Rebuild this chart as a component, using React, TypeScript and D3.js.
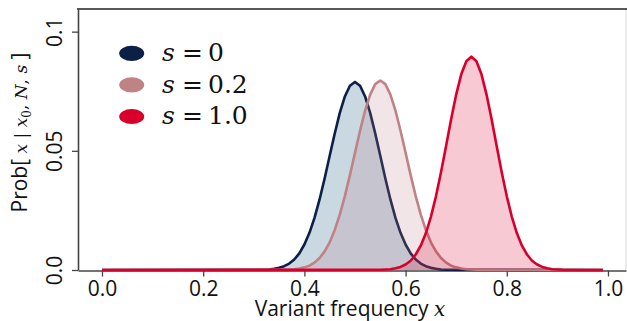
import React, { useEffect, useRef } from 'react';
import * as d3 from 'd3';

// legend labels (value of s) and colours
const seriesNames = ['0', '0.2', '1.0'];
const lineColors = ['#0c1f46', '#bf8285', '#d8002b'];
const fillColors = ['#4d7f9b', '#bc7f87', '#d8002b'];
const fillOpacity = [0.3, 0.2, 0.21];

// probabilities, one value every 0.01 in x
const freqStep = 0.01;
const freqEnd = 0.99;
const s0Start = 0.32;
const s0Values = [
  0.0001, 0.0002, 0.0005, 0.0009, 0.0016, 0.0027, 0.0044, 0.0070, 0.0107, 0.0156,
  0.0219, 0.0296, 0.0384, 0.0479, 0.0573, 0.0659, 0.0728, 0.0773, 0.0789, 0.0773,
  0.0728, 0.0659, 0.0573, 0.0479, 0.0384, 0.0296, 0.0219, 0.0156, 0.0107, 0.0070,
  0.0044, 0.0027, 0.0016, 0.0009, 0.0005, 0.0002, 0.0001,
];
const s02Start = 0.36;
const s02Values = [
  0.0001, 0.0002, 0.0003, 0.0006, 0.0011, 0.0018, 0.0031, 0.0050, 0.0078, 0.0116,
  0.0168, 0.0232, 0.0310, 0.0398, 0.0492, 0.0584, 0.0669, 0.0736, 0.0780, 0.0795,
  0.0780, 0.0736, 0.0669, 0.0584, 0.0492, 0.0398, 0.0310, 0.0232, 0.0168, 0.0116,
  0.0078, 0.0050, 0.0031, 0.0018, 0.0011, 0.0006, 0.0003, 0.0002, 0.0001,
];
const s1Start = 0.55;
const s1Values = [
  0.0001, 0.0002, 0.0003, 0.0007, 0.0013, 0.0023, 0.0039, 0.0065, 0.0102, 0.0154,
  0.0223, 0.0309, 0.0410, 0.0520, 0.0632, 0.0736, 0.0821, 0.0876, 0.0895, 0.0876,
  0.0821, 0.0736, 0.0632, 0.0520, 0.0410, 0.0309, 0.0223, 0.0154, 0.0102, 0.0065,
  0.0039, 0.0023, 0.0013, 0.0007, 0.0003, 0.0002, 0.0001,
];

const xTicks = [0, 0.2, 0.4, 0.6, 0.8, 1.0];
const yTicks = [0, 0.05, 0.1];
const yTickLabels = ['0.0', '0.05', '0.1'];

const W = 627;
const H = 321;
const SANS = '"Open Sans", sans-serif';
const MATH = '"DejaVu Serif", serif';

const App = () => {
  const svgRef = useRef(null);

  useEffect(() => {
    const svg = d3.select(svgRef.current);
    svg.selectAll('*').remove();

    const x = d3.scaleLinear().domain([-0.0474, 1.0356]).range([78, 626]);
    const y = d3.scaleLinear().domain([0, 0.1095]).range([270, 9]);

    const toPoints = (start, vals) => [
      [0, 0],
      ...vals.map((v, i) => [start + i * freqStep, v]),
      [freqEnd, 0],
    ];
    const series = [
      toPoints(s0Start, s0Values),
      toPoints(s02Start, s02Values),
      toPoints(s1Start, s1Values),
    ];

    // frame
    svg.append('line').attr('x1', 626).attr('x2', 626).attr('y1', 9).attr('y2', 270)
      .attr('stroke', '#d8d8d8').attr('stroke-width', 1);
    svg.append('line').attr('x1', 77).attr('x2', 627).attr('y1', 9).attr('y2', 9)
      .attr('stroke', '#222').attr('stroke-width', 1.6);

    const area = d3.area().x(d => x(d[0])).y0(y(0)).y1(d => y(d[1]));
    const line = d3.line().x(d => x(d[0])).y(d => y(d[1]));

    // axes first so curves sit on the baseline
    const gx = svg.append('g').attr('transform', `translate(0,${y(0) + 0.5})`)
      .call(d3.axisBottom(x).tickValues(xTicks).tickFormat(d3.format('.1f')).tickSize(6).tickSizeOuter(0));
    gx.select('.domain').attr('stroke', '#444').attr('stroke-width', 1.6);
    gx.selectAll('.tick line').attr('stroke', '#444').attr('stroke-width', 1.3);
    gx.selectAll('text').attr('y', 25).attr('dy', 0)
      .style('font-family', SANS).style('font-size', '21px').attr('fill', '#111');

    const gy = svg.append('g').attr('transform', 'translate(78,0)')
      .call(d3.axisLeft(y).tickValues(yTicks).tickFormat((d, i) => yTickLabels[i]).tickSize(6).tickSizeOuter(0));
    gy.select('.domain').attr('stroke', '#444').attr('stroke-width', 1.6);
    gy.selectAll('.tick line').attr('stroke', '#444').attr('stroke-width', 1.3);
    gy.selectAll('text').attr('transform', 'rotate(-90)').attr('x', 0).attr('y', -16).attr('dy', 0)
      .attr('text-anchor', 'middle')
      .style('font-family', SANS).style('font-size', '21px').attr('fill', '#111');

    series.forEach((pts, i) => {
      svg.append('path').datum(pts).attr('d', area)
        .attr('fill', fillColors[i]).attr('fill-opacity', fillOpacity[i]);
      svg.append('path').datum(pts).attr('d', line)
        .attr('fill', 'none').attr('stroke', lineColors[i]).attr('stroke-width', 2.6)
        .attr('stroke-linejoin', 'round');
    });

    // legend
    const legendY = [53.3, 84.8, 116.5];
    seriesNames.forEach((name, i) => {
      const ly = legendY[i];
      svg.append('ellipse').attr('cx', 131.7).attr('cy', ly).attr('rx', 12.5).attr('ry', 7.6)
        .attr('fill', lineColors[i]);
      svg.append('text').attr('x', 162).attr('y', ly + 7.8).text('s')
        .style('font-family', MATH).style('font-style', 'italic').style('font-size', '25px').attr('fill', '#111');
      svg.append('text').attr('x', 192.5).attr('y', ly + 7.8).attr('text-anchor', 'middle').text('=')
        .style('font-family', MATH).style('font-size', '25px').attr('fill', '#111');
      svg.append('text').attr('x', 208).attr('y', ly + 7.8).text(name)
        .style('font-family', MATH).style('font-size', '25px').attr('fill', '#111');
    });

    // x label
    const xl = svg.append('text').attr('x', 350).attr('y', 315.5).attr('text-anchor', 'middle')
      .style('font-family', SANS).style('font-size', '21px').attr('fill', '#111');
    xl.append('tspan').text('Variant frequency ');
    xl.append('tspan').text('x').style('font-family', MATH).style('font-style', 'italic').style('font-size', '20px');

    // y label
    const yl = svg.append('text').attr('transform', 'translate(27,132.5) rotate(-90)').attr('text-anchor', 'middle')
      .style('font-family', SANS).style('font-size', '21px').attr('fill', '#111');
    const it = { 'font-family': MATH, 'font-style': 'italic', 'font-size': '17px' };
    const up = { 'font-family': MATH, 'font-size': '17px' };
    const add = (t, st) => {
      const s = yl.append('tspan').text(t);
      if (st) Object.entries(st).forEach(([k, v]) => s.style(k, v));
      return s;
    };
    add('Prob[ ');
    add('x', it);
    add(' | ', up);
    add('x', it);
    add('0', { 'font-family': MATH, 'font-size': '12px' }).attr('dy', 4);
    add(', ', up).attr('dy', -4);
    add('N', it);
    add(', ', up);
    add('s', it);
    add(' ]');
  }, []);

  return (
    <svg ref={svgRef} width={W} height={H}
      style={{ position: 'absolute', left: 0, top: 0, background: '#fff' }} />
  );
};

export default App;
